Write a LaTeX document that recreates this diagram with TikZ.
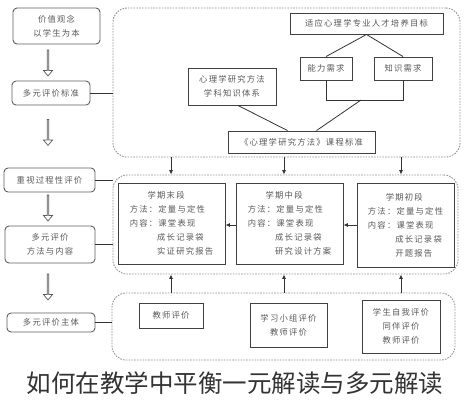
\documentclass[tikz,border=0pt]{standalone}
\usepackage{fontspec}
\usetikzlibrary{shapes.arrows,arrows.meta,calc}
\newfontfamily\cjk[LetterSpace=15]{Noto Sans CJK SC}
\newfontfamily\cjkt{Noto Sans CJK SC}
\begin{document}
\begin{tikzpicture}[x=1pt,y=-1pt,
  txt/.style={font=\cjk\fontsize{8.3}{14}\selectfont, text=black!65},
  lbox/.style={txt, draw=gray!75!black, rounded corners=4pt, line width=0.9pt, fill=white, inner sep=0pt, align=center},
  rbox/.style={txt, draw=black!75, line width=0.9pt, fill=white, inner sep=0pt, align=center},
  panel/.style={draw=gray!85, dash pattern=on 1.6pt off 1.2pt, line width=0.9pt, rounded corners=14pt, inner sep=0pt},
  conn/.style={draw=black!80, line width=0.8pt},
  arr/.style={conn, -{Latex[length=4.5pt,width=4pt]}},
  hollow/.style={single arrow, draw=gray!70!black, fill=white, line width=0.7pt, minimum height=26pt, minimum width=9pt, single arrow head extend=2pt, single arrow tip angle=80, shape border rotate=270, inner sep=0pt}
]
\useasboundingbox (0,0) rectangle (469,400);
\fill[white] (0,0) rectangle (469,400);

% dashed panels
\node[panel, minimum width=347pt, minimum height=149pt] (PA) at (286.5,82.5) {};
\node[panel, minimum width=345pt, minimum height=99pt] (PB) at (285.5,224.5) {};
\node[panel, minimum width=343pt, minimum height=67pt] (PC) at (283.5,326.5) {};

% left column
\node[lbox, minimum width=87pt, minimum height=36pt] (b1) at (56.5,26) {价值观念\\以学生为本};
\node[lbox, minimum width=78pt, minimum height=24pt] (b2) at (51,93) {多元评价标准};
\node[lbox, minimum width=91pt, minimum height=24pt] (b3) at (49.5,180) {重视过程性评价};
\node[lbox, minimum width=90pt, minimum height=37pt] (b4) at (50,244.5) {多元评价\\方法与内容};
\node[lbox, minimum width=88pt, minimum height=19pt] (b5) at (51,322.5) {多元评价主体};

\node[hollow] (a1) at (48,62.5) {};
\node[hollow] (a2) at (48,132) {};
\node[hollow] (a3) at (48,207.5) {};
\node[hollow] (a4) at (48,286.5) {};

\draw[conn] (b2.east) -- (b2.east -| PA.west);
\draw[conn] (b3.east) -- (b3.east -| PB.west);
\draw[conn] (b4.east) -- (b4.east -| PB.west);
\draw[conn] (b5.east) -- (b5.east -| PC.west);

% top panel
\node[rbox, minimum width=153pt, minimum height=21pt] (T) at (366.5,23.5) {适应心理学专业人才培养目标};
\node[rbox, minimum width=52pt, minimum height=23pt] (n1) at (326,68.5) {能力需求};
\node[rbox, minimum width=58pt, minimum height=23pt] (n2) at (403,68.5) {知识需求};
\node[rbox, minimum width=88pt, minimum height=37pt] (L) at (232,86.5) {心理学研究方法\\学科知识体系};
\node[rbox, minimum width=147pt, minimum height=22pt] (C) at (301.5,142) {《心理学研究方法》课程标准};

\draw[conn] (T.south) -- (n1.north);
\draw[conn] (T.south) -- (n2.north);
\draw[conn] (n1.south) -- ++(0,20) coordinate (k1) -| (n2.south);
\coordinate (km) at (361,100);
\draw[conn] (km) -- ($(C.north)+(15,0)$);
\draw[conn] ($(L.south)+(6,0)$) -- ($(C.north)+(-14,0)$);

% middle panel
\node[rbox, align=left, minimum width=107pt, minimum height=81pt] (m1) at (171.5,223.5)
  {\phantom{方法}学期末段\\方法：定量与定性\\内容：课堂表现\\\phantom{内容：}成长记录袋\\\phantom{内容：}实证研究报告};
\node[rbox, align=left, minimum width=107pt, minimum height=81pt] (m2) at (289.5,223.5)
  {\phantom{方法}学期中段\\方法：定量与定性\\内容：课堂表现\\\phantom{内容：}成长记录袋\\\phantom{内容：}研究设计方案};
\node[rbox, align=left, minimum width=97pt, minimum height=84pt] (m3) at (405.5,225)
  {\phantom{方法}学期初段\\方法：定量与定性\\内容：课堂表现\\\phantom{内容：}成长记录袋\\\phantom{内容：}开题报告};

\draw[arr] (m3.west) -- (m3.west -| m2.east);
\draw[arr] (m2.west |- m3.west) -- (m3.west -| m1.east);

% bottom panel
\node[rbox, minimum width=64pt, minimum height=25pt] (e1) at (171,315.5) {教师评价};
\node[rbox, minimum width=77pt, minimum height=44pt] (e2) at (288.5,325) {学习小组评价\\教师评价};
\node[rbox, minimum width=78pt, minimum height=53pt] (e3) at (401,326.5) {学生自我评价\\同伴评价\\教师评价};

\coordinate (c1) at (171,0);
\coordinate (c2) at (284,0);
\coordinate (c3) at (401,0);
\foreach \c in {c1,c2,c3}{
  \draw[arr] (\c |- PA.south) -- (\c |- PB.north);
  \draw[arr] (\c |- PC.north) -- (\c |- PB.south);
}

% title
\node[font=\cjkt\fontsize{24.5}{24.5}\selectfont, text=black!80, inner sep=0pt] (title) at (235,383) {如何在教学中平衡一元解读与多元解读};
\end{tikzpicture}
\end{document}
